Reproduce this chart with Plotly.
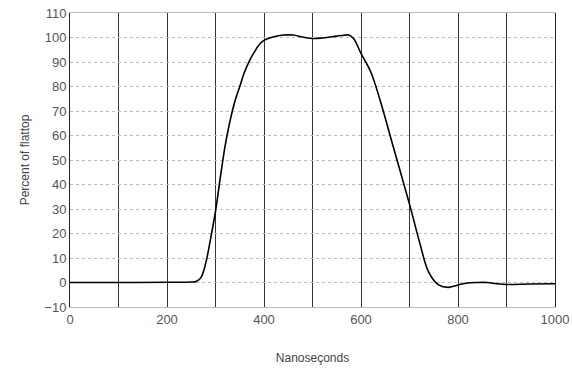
import plotly.graph_objects as go

time_ns = [0, 100, 200, 250, 260, 270, 280, 290, 300, 310, 320, 330, 340, 350, 360, 370,
           380, 390, 400, 420, 440, 460, 480, 500, 520, 540, 560, 575, 585, 600, 620,
           640, 660, 680, 700, 720, 740, 760, 780, 800, 820, 840, 860, 880, 900, 950, 1000]
percent = [0, 0, 0.1, 0.2, 0.4, 2, 8, 18, 29, 43, 56, 66, 74, 80, 86, 90.5,
           94, 97, 98.8, 100.3, 101, 101, 100.2, 99.6, 99.8, 100.3, 100.8, 101, 99.5, 93.5, 86,
           74, 60, 46, 32, 17, 4, -1, -2, -1, -0.2, 0, 0, -0.5, -0.8, -0.6, -0.5]

x_ticks = [0, 200, 400, 600, 800, 1000]
y_ticks = list(range(-10, 111, 10))

fig = go.Figure()
fig.add_trace(go.Scatter(x=time_ns, y=percent, mode="lines", line=dict(color="black", width=1.6, shape="spline"),
                         showlegend=False))

font = "Liberation Sans, DejaVu Sans, sans-serif"
fig.update_layout(
    width=572, height=369,
    margin=dict(l=70, r=17, t=13, b=62),
    paper_bgcolor="white", plot_bgcolor="white",
    font=dict(family=font, size=13, color="#555"),
    xaxis=dict(range=[0, 1000], tickvals=x_ticks, ticks="", showgrid=True, gridcolor="#333", gridwidth=1,
               minor=dict(dtick=100, tick0=0, showgrid=True, gridcolor="#333", gridwidth=1),
               showline=True, linecolor="#bbb", mirror=True, zeroline=False, automargin=False,
               title=dict(text="Nanoseçonds", font=dict(size=12, color="#444"), standoff=28),
               tickfont=dict(size=13, color="#555")),
    yaxis=dict(range=[-10, 110], tickvals=y_ticks, ticks="", showgrid=True, gridcolor="#bbb", griddash="dot",
               gridwidth=1, zeroline=False, showline=True, linecolor="#222", mirror=True, automargin=False,
               title=dict(text="Percent of flattop", font=dict(size=12, color="#444"), standoff=12),
               tickfont=dict(size=13, color="#555")),
)
fig.write_html("out.html", config={"displayModeBar": False},
               post_script="document.body.style.margin='0';document.body.style.overflow='hidden';")
